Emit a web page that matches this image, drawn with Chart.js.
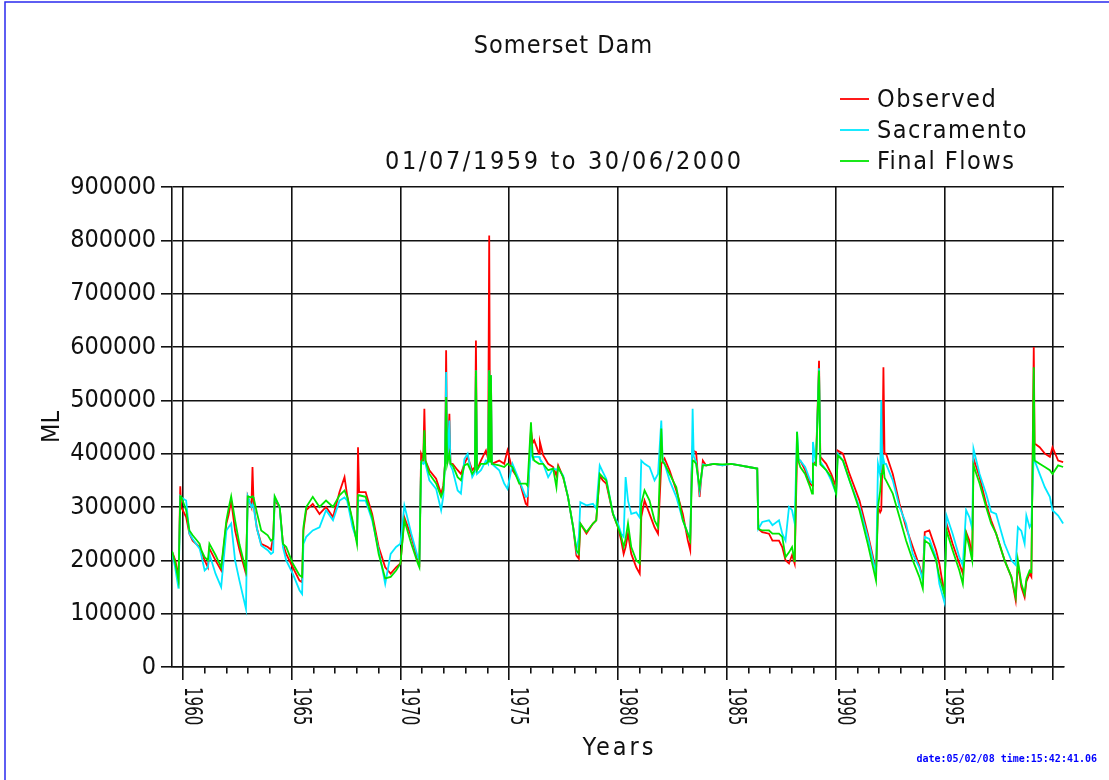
<!DOCTYPE html>
<html>
<head>
<meta charset="utf-8">
<title>Somerset Dam</title>
<script src="https://cdn.jsdelivr.net/npm/chart.js@4.4.1/dist/chart.umd.min.js"></script>
<style>
  html, body { margin: 0; padding: 0; background: #fff; }
</style>
</head>
<body>
<canvas id="chart" width="1109" height="780"></canvas>
<script>
// time as decimal years (01/07/1959 = 1959.5)
const years = [
  1959.50, 1959.65, 1959.80, 1959.88, 1959.92, 1960.15, 1960.30, 1960.45, 1960.77, 1960.85,
  1961.00, 1961.15, 1961.22, 1961.50, 1961.76, 1962.00, 1962.10, 1962.22, 1962.40, 1962.60,
  1962.90, 1962.98, 1963.15, 1963.20, 1963.25, 1963.40, 1963.60, 1963.90, 1964.05, 1964.15,
  1964.22, 1964.45, 1964.60, 1964.75, 1965.05, 1965.36, 1965.48, 1965.54, 1965.67, 1965.97,
  1966.28, 1966.58, 1966.90, 1967.20, 1967.43, 1967.55, 1967.80, 1968.00, 1968.05, 1968.10,
  1968.40, 1968.70, 1969.00, 1969.30, 1969.55, 1969.80, 1970.00, 1970.18, 1970.50, 1970.80,
  1970.87, 1970.95, 1971.05, 1971.10, 1971.15, 1971.33, 1971.64, 1971.87, 1971.97, 1972.05,
  1972.10, 1972.15, 1972.25, 1972.30, 1972.40, 1972.63, 1972.78, 1972.94, 1973.09, 1973.30,
  1973.42, 1973.47, 1973.52, 1973.70, 1973.93, 1974.03, 1974.08, 1974.12, 1974.16, 1974.20,
  1974.54, 1974.77, 1974.92, 1975.15, 1975.46, 1975.76, 1975.84, 1976.00, 1976.08, 1976.15,
  1976.37, 1976.41, 1976.56, 1976.79, 1977.02, 1977.17, 1977.25, 1977.48, 1977.70, 1977.94,
  1978.09, 1978.20, 1978.27, 1978.55, 1978.85, 1979.00, 1979.16, 1979.30, 1979.46, 1979.77,
  1980.00, 1980.15, 1980.26, 1980.35, 1980.46, 1980.61, 1980.84, 1981.00, 1981.07, 1981.22,
  1981.45, 1981.68, 1981.84, 1981.99, 1982.05, 1982.14, 1982.37, 1982.68, 1982.98, 1983.21,
  1983.32, 1983.38, 1983.43, 1983.48, 1983.59, 1983.75, 1983.90, 1984.05, 1984.40, 1984.80,
  1985.20, 1985.60, 1986.00, 1986.40, 1986.45, 1986.63, 1986.94, 1987.10, 1987.40, 1987.55,
  1987.70, 1987.86, 1988.00, 1988.12, 1988.23, 1988.30, 1988.38, 1988.60, 1988.83, 1988.92,
  1988.96, 1989.10, 1989.24, 1989.30, 1989.57, 1989.80, 1990.03, 1990.10, 1990.34, 1990.64,
  1991.10, 1991.48, 1991.86, 1991.95, 1992.05, 1992.10, 1992.15, 1992.20, 1992.25, 1992.32,
  1992.63, 1992.94, 1993.24, 1993.55, 1993.85, 1994.01, 1994.10, 1994.31, 1994.62, 1994.77,
  1995.00, 1995.10, 1995.38, 1995.69, 1995.85, 1996.00, 1996.15, 1996.28, 1996.34, 1996.62,
  1996.92, 1997.15, 1997.38, 1997.77, 1998.08, 1998.28, 1998.38, 1998.54, 1998.69, 1998.77,
  1998.92, 1999.00, 1999.11, 1999.15, 1999.38, 1999.62, 1999.85, 1999.97, 2000.23, 2000.46
];

// flows in thousands of ML
const observed = [
  217, 200, 169, 339, 300, 281, 250, 237, 225, 216,
  200, 187, 222, 200, 181, 269, 285, 312, 256, 220,
  175, 320, 300, 375, 306, 260, 231, 225, 220, 244,
  312, 300, 231, 212, 187, 162, 159, 256, 294, 306,
  287, 300, 281, 328, 356, 322, 269, 237, 412, 328,
  328, 287, 225, 187, 175, 187, 194, 281, 244, 200,
  194, 400, 390, 484, 387, 369, 353, 325, 340, 381,
  594, 381, 475, 381, 381, 369, 362, 381, 394, 369,
  375, 612, 369, 387, 406, 390, 809, 390, 547, 381,
  387, 381, 406, 369, 350, 306, 303, 444, 420, 425,
  400, 422, 397, 381, 375, 359, 378, 356, 319, 262,
  209, 203, 269, 250, 269, 275, 359, 350, 344, 287,
  262, 237, 212, 225, 250, 212, 187, 175, 281, 312,
  287, 262, 250, 381, 385, 391, 369, 331, 287, 237,
  219, 360, 409, 405, 403, 319, 387, 378, 381, 378,
  381, 378, 375, 372, 259, 253, 250, 237, 237, 225,
  200, 194, 210, 194, 400, 387, 387, 369, 344, 340,
  381, 385, 574, 394, 381, 362, 337, 406, 400, 362,
  312, 250, 181, 300, 290, 294, 380, 562, 400, 400,
  362, 306, 262, 225, 190, 169, 253, 256, 219, 194,
  137, 269, 231, 194, 175, 253, 237, 206, 391, 356,
  306, 275, 250, 200, 169, 125, 194, 150, 131, 160,
  175, 169, 600, 419, 412, 400, 394, 412, 387, 384
];

const sacramento = [
  217, 185, 147, 320, 318, 312, 250, 240, 222, 209,
  181, 187, 212, 175, 150, 256, 262, 269, 200, 162,
  109, 320, 300, 305, 300, 260, 228, 219, 212, 215,
  318, 300, 225, 200, 175, 144, 137, 231, 244, 256,
  262, 294, 275, 312, 318, 312, 262, 237, 312, 312,
  312, 275, 219, 156, 212, 225, 231, 303, 250, 206,
  200, 384, 381, 385, 381, 350, 334, 294, 320, 381,
  553, 381, 462, 378, 369, 331, 325, 390, 400, 356,
  365, 556, 362, 369, 387, 381, 556, 385, 547, 381,
  369, 344, 334, 381, 350, 319, 320, 412, 390, 394,
  394, 390, 381, 356, 372, 370, 372, 359, 319, 262,
  219, 244, 309, 303, 306, 297, 378, 366, 353, 287,
  269, 250, 244, 356, 312, 287, 290, 280, 387, 381,
  375, 350, 362, 462, 390, 381, 350, 319, 275, 250,
  244, 350, 484, 395, 385, 330, 380, 378, 381, 378,
  381, 378, 375, 372, 259, 272, 275, 266, 275, 250,
  237, 300, 294, 270, 441, 390, 387, 375, 350, 345,
  422, 380, 560, 385, 369, 350, 325, 400, 387, 350,
  300, 244, 175, 381, 360, 500, 370, 390, 381, 381,
  350, 300, 269, 212, 187, 162, 244, 240, 205, 156,
  122, 284, 250, 206, 190, 294, 281, 260, 409, 362,
  325, 291, 287, 231, 200, 191, 262, 255, 231, 284,
  262, 269, 400, 387, 362, 337, 319, 294, 284, 269
];

const finalFlows = [
  217, 195, 162, 320, 320, 294, 256, 247, 231, 219,
  206, 200, 231, 210, 187, 275, 297, 320, 275, 230,
  181, 320, 318, 320, 318, 290, 256, 247, 237, 240,
  320, 300, 231, 225, 194, 172, 169, 262, 300, 319,
  300, 312, 300, 322, 331, 319, 275, 231, 322, 322,
  319, 281, 212, 166, 169, 181, 194, 275, 231, 194,
  187, 384, 390, 444, 387, 362, 344, 319, 331, 381,
  506, 381, 400, 381, 378, 356, 350, 378, 381, 362,
  370, 556, 369, 381, 381, 385, 556, 385, 547, 381,
  378, 375, 381, 375, 344, 344, 340, 459, 395, 387,
  381, 381, 381, 369, 372, 337, 375, 356, 319, 262,
  219, 212, 269, 253, 269, 275, 362, 356, 350, 287,
  262, 244, 225, 240, 269, 225, 200, 194, 306, 331,
  312, 275, 262, 447, 385, 381, 362, 337, 275, 250,
  237, 330, 387, 387, 381, 337, 378, 378, 381, 380,
  381, 378, 375, 372, 259, 256, 256, 250, 250, 244,
  206, 215, 225, 197, 441, 385, 375, 362, 337, 325,
  381, 378, 556, 380, 369, 356, 325, 397, 387, 350,
  294, 231, 162, 300, 330, 362, 362, 380, 355, 350,
  325, 281, 237, 200, 169, 147, 237, 231, 200, 169,
  137, 256, 219, 181, 156, 250, 225, 200, 378, 344,
  300, 269, 250, 200, 169, 131, 200, 156, 137, 165,
  181, 178, 562, 387, 381, 375, 369, 362, 378, 375
];

const seriesNames = ['Observed', 'Sacramento', 'Final Flows'];
const seriesColors = ['#ff0000', '#00e8ff', '#00e600'];
const yTicks = [0, 100000, 200000, 300000, 400000, 500000, 600000, 700000, 800000, 900000];
const xLabelYears = [1960, 1965, 1970, 1975, 1980, 1985, 1990, 1995];
const mainTitle = 'Somerset Dam';
const subTitle = '01/07/1959 to 30/06/2000';
const xTitle = 'Years';
const stamp = 'date:05/02/08 time:15:42:41.06';

const FONT = '"Liberation Sans Narrow", "DejaVu Sans Condensed", "Arial Narrow", sans-serif';
const INK = '#111';

const toPts = vals => years.map((x, i) => ({ x: x, y: vals[i] * 1000 }));

// titles, legend, rotated year labels, stamp and frame
const pagePlugin = {
  id: 'page',
  beforeDraw(chart) {
    const ctx = chart.ctx;
    ctx.save();
    ctx.fillStyle = '#fff';
    ctx.fillRect(0, 0, chart.width, chart.height);
    ctx.restore();
  },
  afterDraw(chart) {
    const ctx = chart.ctx;
    const xs = chart.scales.x;
    const area = chart.chartArea;
    ctx.save();

    // page frame (left and top only)
    ctx.strokeStyle = '#2a2aee';
    ctx.lineWidth = 1.5;
    ctx.beginPath();
    ctx.moveTo(5, 780);
    ctx.lineTo(5, 2);
    ctx.lineTo(1109, 2);
    ctx.stroke();

    ctx.fillStyle = INK;
    ctx.font = '25px ' + FONT;
    ctx.textBaseline = 'middle';
    ctx.textAlign = 'left';

    const spaced = (txt, cx, cy, sp) => {
      ctx.letterSpacing = sp + 'px';
      const w = ctx.measureText(txt).width - sp;
      ctx.fillText(txt, cx - w / 2, cy);
    };
    spaced(mainTitle, 563, 46, 1);
    spaced(subTitle, 563, 162, 2.6);
    spaced(xTitle, (area.left + area.right) / 2, 748, 3);

    // legend
    ctx.letterSpacing = '1.5px';
    chart.data.datasets.forEach((ds, i) => {
      const y = 99 + i * 31;
      ctx.strokeStyle = ds.borderColor;
      ctx.lineWidth = 1.8;
      ctx.beginPath();
      ctx.moveTo(840, y);
      ctx.lineTo(869, y);
      ctx.stroke();
      ctx.fillText(ds.label, 877, y + 1);
    });

    // rotated year labels
    ctx.letterSpacing = '0px';
    ctx.font = '24px ' + FONT;
    ctx.textBaseline = 'alphabetic';
    xLabelYears.forEach(yr => {
      const px = xs.getPixelForValue(yr);
      ctx.save();
      ctx.translate(px + 2, 687);
      ctx.rotate(Math.PI / 2);
      ctx.scale(0.7, 1);
      ctx.fillText(String(yr), 0, 0);
      ctx.restore();
    });

    // date stamp
    ctx.font = 'bold 10px "DejaVu Sans Mono", monospace';
    ctx.fillStyle = '#0000ff';
    ctx.textAlign = 'right';
    ctx.textBaseline = 'middle';
    ctx.fillText(stamp, 1097, 759);
    ctx.restore();
  }
};

new Chart(document.getElementById('chart'), {
  type: 'line',
  data: {
    datasets: [
      { label: seriesNames[0], data: toPts(observed), borderColor: seriesColors[0], order: 3 },
      { label: seriesNames[1], data: toPts(sacramento), borderColor: seriesColors[1], order: 2 },
      { label: seriesNames[2], data: toPts(finalFlows), borderColor: seriesColors[2], order: 1 }
    ]
  },
  options: {
    responsive: false,
    animation: false,
    devicePixelRatio: 1,
    layout: { padding: { top: 187, right: 45, left: 0, bottom: 0 } },
    elements: {
      point: { radius: 0 },
      line: { borderWidth: 1.8, tension: 0, fill: false }
    },
    plugins: {
      legend: { display: false },
      title: { display: false },
      tooltip: { enabled: false }
    },
    scales: {
      x: {
        type: 'linear',
        min: 1959.5,
        max: 2000.5,
        afterBuildTicks: s => {
          s.ticks = [];
          for (let y = 1960; y <= 2000; y++) s.ticks.push({ value: y });
        },
        afterFit: s => { s.height = 113; },
        ticks: { display: false },
        grid: {
          color: c => (c.tick && c.tick.value % 5 === 0) ? INK : 'rgba(0,0,0,0)',
          lineWidth: 1.6,
          tickColor: INK,
          tickWidth: 1.6,
          tickLength: 13,
          tickBorderDash: c => (c.tick && c.tick.value % 5 === 0) ? [] : [6, 40]
        },
        border: { display: true, color: INK, width: 1.6 }
      },
      y: {
        min: 0,
        max: 900000,
        afterBuildTicks: s => { s.ticks = yTicks.map(v => ({ value: v })); },
        afterFit: s => { s.width = 172; },
        ticks: {
          callback: v => String(v),
          color: INK,
          font: { family: FONT, size: 25 },
          padding: 5
        },
        grid: { color: INK, lineWidth: 1.6, tickLength: 11 },
        border: { display: true, color: INK, width: 1.6 },
        title: {
          display: true,
          text: 'ML',
          color: INK,
          font: { family: FONT, size: 25, lineHeight: 1 },
          padding: { top: 40, bottom: 0 }
        }
      }
    }
  },
  plugins: [pagePlugin]
});
</script>
</body>
</html>
